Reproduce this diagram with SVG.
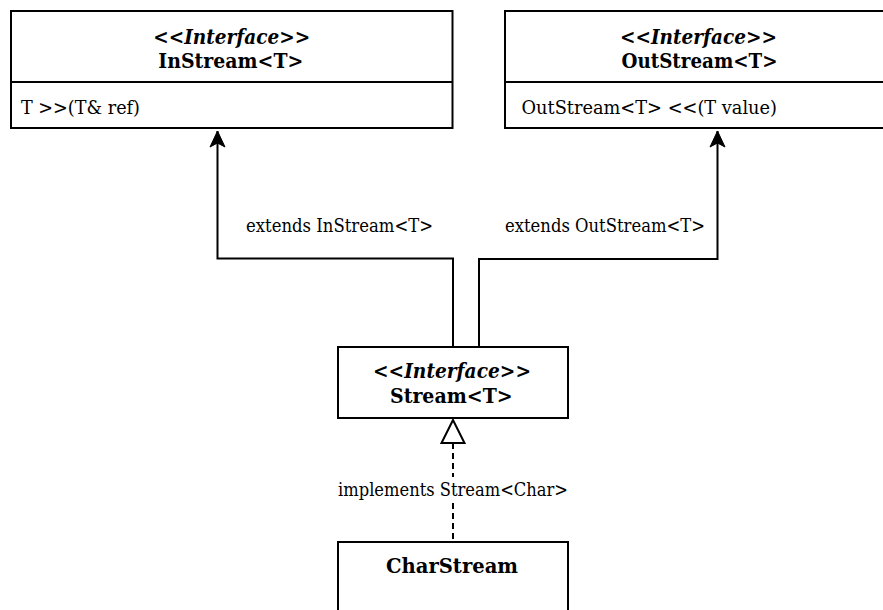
<svg xmlns="http://www.w3.org/2000/svg" width="883" height="610" viewBox="0 0 883 610">
  <style>
    .box { fill: #ffffff; stroke: #000000; stroke-width: 2; }
    .div { stroke: #000000; stroke-width: 2; fill: none; }
    .edge { fill: none; stroke: #000000; stroke-width: 2; }
    .dash { stroke-dasharray: 6 4; }
    text { font-family: 'DejaVu Serif', 'Liberation Serif', serif; font-size: 19px; fill: #000000; }
    .stereo { font-size: 20px; font-weight: bold; font-style: italic; text-anchor: middle; }
    .name { font-size: 20px; font-weight: bold; text-anchor: middle; }
  </style>
  <defs>
    <marker id="arrow" viewBox="-17 -9 19 18" refX="0" refY="0" markerWidth="19" markerHeight="18" markerUnits="userSpaceOnUse" orient="auto">
      <path d="M0,0 L-16,-7.5 L-12,0 L-16,7.5 Z" fill="#000000" stroke="#000000" stroke-width="1"/>
    </marker>
  </defs>

  <rect width="883" height="610" fill="#ffffff"/>

  <!-- connectors -->
  <g id="connectors">
    <path class="edge" d="M453,347 L453,258.5 L217.5,258.5 L217.5,131" marker-end="url(#arrow)"/>
    <path class="edge" d="M479,347 L479,259 L717.5,259 L717.5,131" marker-end="url(#arrow)"/>
    <text x="246" y="232" textLength="187" lengthAdjust="spacingAndGlyphs">extends InStream&lt;T&gt;</text>
    <text x="505" y="232" textLength="200" lengthAdjust="spacingAndGlyphs">extends OutStream&lt;T&gt;</text>

    <path class="edge dash" d="M453,443 L453,542"/>
    <rect x="336" y="477" width="234" height="26" fill="#ffffff"/>
    <text x="338" y="496" textLength="230" lengthAdjust="spacingAndGlyphs">implements Stream&lt;Char&gt;</text>
    <path d="M453,420 L441.5,443 L464.5,443 Z" fill="#ffffff" stroke="#000000" stroke-width="2"/>
  </g>

  <!-- interface InStream<T> -->
  <g id="instream">
    <rect class="box" x="11" y="11" width="441.5" height="117"/>
    <line class="div" x1="11" y1="82" x2="452.5" y2="82"/>
    <text class="stereo" x="231.7" y="44" textLength="157" lengthAdjust="spacingAndGlyphs">&lt;&lt;Interface&gt;&gt;</text>
    <text class="name" x="230.8" y="68" textLength="145" lengthAdjust="spacingAndGlyphs">InStream&lt;T&gt;</text>
    <text x="21" y="113.5" textLength="119" lengthAdjust="spacingAndGlyphs">T &gt;&gt;(T&amp; ref)</text>
  </g>

  <!-- interface OutStream<T> -->
  <g id="outstream">
    <rect class="box" x="505" y="11" width="400" height="117"/>
    <line class="div" x1="505" y1="82" x2="905" y2="82"/>
    <text class="stereo" x="698.5" y="44" textLength="157" lengthAdjust="spacingAndGlyphs">&lt;&lt;Interface&gt;&gt;</text>
    <text class="name" x="699.5" y="68" textLength="156" lengthAdjust="spacingAndGlyphs">OutStream&lt;T&gt;</text>
    <text x="521.5" y="114" textLength="255.5" lengthAdjust="spacingAndGlyphs">OutStream&lt;T&gt; &lt;&lt;(T value)</text>
  </g>

  <!-- interface Stream<T> -->
  <g id="stream">
    <rect class="box" x="338" y="347" width="230" height="71"/>
    <text class="stereo" x="452" y="377.5" textLength="158" lengthAdjust="spacingAndGlyphs">&lt;&lt;Interface&gt;&gt;</text>
    <text class="name" x="451.3" y="403" textLength="122.7" lengthAdjust="spacingAndGlyphs">Stream&lt;T&gt;</text>
  </g>

  <!-- class CharStream -->
  <g id="charstream">
    <rect class="box" x="338" y="542" width="230" height="90"/>
    <text class="name" x="452" y="573" textLength="132" lengthAdjust="spacingAndGlyphs">CharStream</text>
  </g>
</svg>
